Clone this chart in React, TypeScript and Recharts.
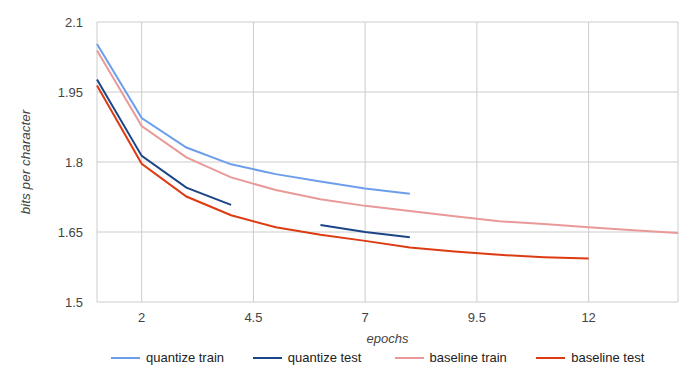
import React from 'react';
import { LineChart, Line, XAxis, YAxis, CartesianGrid, Legend } from 'recharts';

const epochs = [1, 2, 3, 4, 5, 6, 7, 8, 9, 10, 11, 12, 13, 14];
const quantizeTrain = [2.053, 1.894, 1.831, 1.795, 1.774, 1.758, 1.743, 1.732, null, null, null, null, null, null];
const quantizeTest = [1.977, 1.813, 1.745, 1.708, null, 1.665, 1.650, 1.639, null, null, null, null, null, null];
const baselineTrain = [2.039, 1.877, 1.810, 1.767, 1.740, 1.720, 1.706, 1.695, 1.684, 1.673, 1.667, 1.660, 1.654, 1.648];
const baselineTest = [1.964, 1.796, 1.726, 1.686, 1.660, 1.644, 1.631, 1.617, 1.608, 1.601, 1.596, 1.593, null, null];

const xTicks = [2, 4.5, 7, 9.5, 12];
const yTicks = [1.5, 1.65, 1.8, 1.95, 2.1];

const seriesInfo = [
  { key: 'qtrain', name: 'quantize train', color: '#6d9eeb', values: quantizeTrain },
  { key: 'qtest', name: 'quantize test', color: '#1c4587', values: quantizeTest },
  { key: 'btrain', name: 'baseline train', color: '#ea9999', values: baselineTrain },
  { key: 'btest', name: 'baseline test', color: '#dd3b12', values: baselineTest },
];

const data = epochs.map((e, i) => {
  const row: any = { epoch: e };
  seriesInfo.forEach((s) => { row[s.key] = s.values[i]; });
  return row;
});

const FONT = '"Liberation Sans", Arial, sans-serif';

const LegendContent = () => (
  <div style={{ display: 'flex', justifyContent: 'flex-start', paddingLeft: 111, fontFamily: FONT, fontSize: 13, color: '#222', height: 25, alignItems: 'center', marginTop: -3 }}>
    {seriesInfo.map((s) => (
      <div key={s.key} style={{ display: 'flex', alignItems: 'center', width: 144 }}>
        <div style={{ width: 29, height: 2, background: s.color, marginRight: 6 }} />
        <span>{s.name}</span>
      </div>
    ))}
  </div>
);

export default function App() {
  return (
    <div style={{ position: 'absolute', left: 0, top: 0, width: 698, height: 373, background: '#fff' }}>
      <LineChart width={698} height={373} data={data} margin={{ top: 22, right: 20, left: 0, bottom: 0 }}>
        <CartesianGrid stroke="#cccccc" strokeWidth={1} />
        <XAxis
          dataKey="epoch"
          type="number"
          domain={[1, 14]}
          ticks={xTicks}
          axisLine={false}
          tickLine={false}
          height={46}
          tickMargin={5}
          tick={{ fill: '#444', fontSize: 13, fontFamily: FONT }}
          label={{ value: 'epochs', position: 'insideBottom', offset: 5, fill: '#444', fontSize: 13, fontFamily: FONT, fontStyle: 'italic' }}
        />
        <YAxis
          type="number"
          domain={[1.5, 2.1]}
          ticks={yTicks}
          axisLine={false}
          tickLine={false}
          width={97}
          tickMargin={8}
          tick={{ fill: '#444', fontSize: 13, fontFamily: FONT }}
          label={{ value: 'bits per character', angle: -90, position: 'insideLeft', offset: 25, fill: '#444', fontSize: 13.5, fontFamily: FONT, fontStyle: 'italic', style: { textAnchor: 'middle' } }}
        />
        <Legend verticalAlign="bottom" height={25} content={<LegendContent />} />
        {seriesInfo.map((s) => (
          <Line
            key={s.key}
            type="linear"
            dataKey={s.key}
            name={s.name}
            stroke={s.color}
            strokeWidth={2}
            dot={false}
            activeDot={false}
            connectNulls={false}
            isAnimationActive={false}
          />
        ))}
      </LineChart>
    </div>
  );
}
